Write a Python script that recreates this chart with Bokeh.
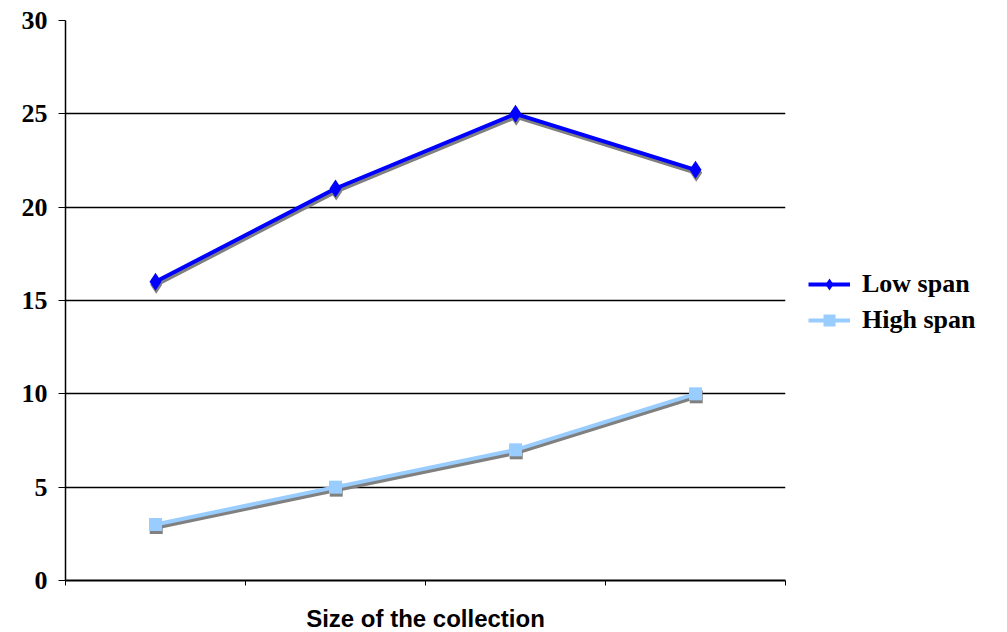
from bokeh.plotting import figure
from bokeh.models import (ColumnDataSource, Legend, LegendItem, FixedTicker,
                          Range1d)
from bokeh.transform import dodge
from bokeh.embed import file_html
from bokeh.resources import INLINE

categories = ["1", "2", "3", "4"]
low_span = [16, 21, 25, 22]
high_span = [3, 5, 7, 10]
y_ticks = [0, 5, 10, 15, 20, 25, 30]

xpos = [i + 0.5 for i in range(len(categories))]
src = ColumnDataSource(dict(x=xpos, low=low_span, high=high_span))

p = figure(frame_width=720, frame_height=560, output_backend="svg",
           toolbar_location=None,
           x_range=Range1d(0, len(categories)), y_range=Range1d(0, 30),
           min_border_left=65, min_border_top=20, min_border_bottom=0,
           min_border_right=215)
p.outline_line_color = None
p.background_fill_color = "white"
p.border_fill_color = "white"

# grid
p.xgrid.grid_line_color = None
p.ygrid.grid_line_color = "black"
p.ygrid.grid_line_width = 1.5
p.ygrid.ticker = FixedTicker(ticks=y_ticks)

# y axis
p.yaxis.ticker = FixedTicker(ticks=y_ticks)
p.yaxis.axis_line_color = "black"
p.yaxis.axis_line_width = 1.5
p.yaxis.major_tick_out = 7
p.yaxis.major_tick_in = 0
p.yaxis.minor_tick_line_color = None
p.yaxis.major_label_standoff = 11
p.yaxis.major_label_text_font = "Liberation Serif"
p.yaxis.major_label_text_font_style = "bold"
p.yaxis.major_label_text_font_size = "26px"
p.yaxis.major_label_text_color = "black"

# x axis
p.xaxis.ticker = FixedTicker(ticks=list(range(len(categories) + 1)))
p.xaxis.major_label_overrides = {i: "" for i in range(len(categories) + 1)}
p.xaxis.axis_line_color = "black"
p.xaxis.axis_line_width = 2
p.xaxis.major_tick_out = 5
p.xaxis.major_tick_in = 0
p.xaxis.minor_tick_line_color = None
p.xaxis.axis_label = "Size of the collection"
p.xaxis.axis_label_text_font = "Liberation Sans"
p.xaxis.axis_label_text_font_style = "bold"
p.xaxis.axis_label_text_font_size = "24px"
p.xaxis.axis_label_text_line_height = 1.0
p.xaxis.axis_label_standoff = 19
p.xaxis.axis_label_text_color = "black"

shadow = "#808080"
dx, dy = 0.004, -0.16
# shadows
p.line(x=dodge("x", dx), y=dodge("low", dy), source=src, line_color=shadow, line_width=4)
p.scatter(x=dodge("x", dx), y=dodge("low", dy), source=src, marker="diamond",
          size=18, fill_color=shadow, line_color=None)
p.line(x=dodge("x", dx), y=dodge("high", dy), source=src, line_color=shadow, line_width=4)
p.scatter(x=dodge("x", dx), y=dodge("high", dy), source=src, marker="square",
          size=13, fill_color=shadow, line_color=None)

# main series
l1 = p.line(x="x", y="low", source=src, line_color="#0000FF", line_width=4)
m1 = p.scatter(x="x", y="low", source=src, marker="diamond", size=18,
               fill_color="#0000FF", line_color=None)
l2 = p.line(x="x", y="high", source=src, line_color="#99CCFF", line_width=4)
m2 = p.scatter(x="x", y="high", source=src, marker="square", size=13,
               fill_color="#99CCFF", line_color=None)

legend = Legend(items=[LegendItem(label="Low span", renderers=[l1, m1]),
                       LegendItem(label="High span", renderers=[l2, m2])],
                location=(23, 245))
legend.border_line_color = None
legend.background_fill_alpha = 0
legend.margin = 0
legend.padding = 0
legend.spacing = 6
legend.glyph_width = 42
legend.glyph_height = 30
legend.label_standoff = 12
legend.label_text_font = "Liberation Serif"
legend.label_text_font_style = "bold"
legend.label_text_font_size = "26px"
legend.label_text_color = "black"
p.add_layout(legend, "right")

open("out.html", "w").write(file_html(p, INLINE))
